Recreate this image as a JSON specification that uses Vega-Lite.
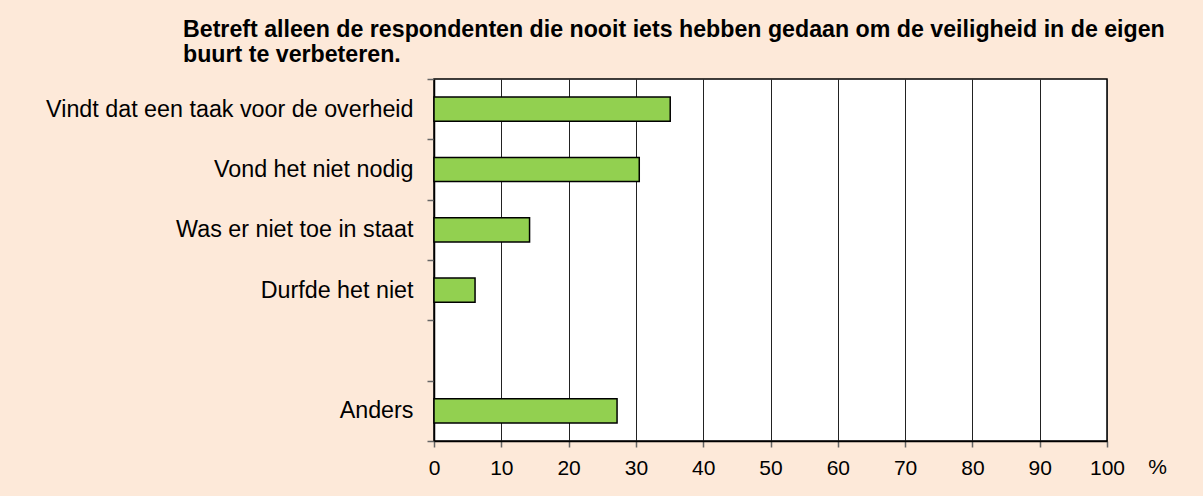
{
  "$schema": "https://vega.github.io/schema/vega-lite/v6.json",
  "autosize": {"type": "none"},
  "width": 673,
  "height": 362,
  "padding": {"left": 434, "top": 79, "right": 96, "bottom": 55},
  "background": "#FDE9D9",
  "title": {
    "text": ["Betreft alleen de respondenten die nooit iets hebben gedaan om de veiligheid in de eigen", "buurt te verbeteren."],
    "anchor": "start",
    "frame": "group",
    "dx": -251,
    "offset": 0,
    "font": "Liberation Sans",
    "fontSize": 23.2,
    "fontWeight": "bold",
    "lineHeight": 25,
    "color": "#000000"
  },
  "data": {
    "values": [
      {"reden": "Vindt dat een taak voor de overheid", "pct": 35.1},
      {"reden": "Vond het niet nodig", "pct": 30.5},
      {"reden": "Was er niet toe in staat", "pct": 14.2},
      {"reden": "Durfde het niet ", "pct": 6.1},
      {"reden": "Anders", "pct": 27.2}
    ]
  },
  "mark": {"type": "bar", "color": "#92D050", "stroke": "#000000", "strokeWidth": 1.5, "height": {"band": 0.4}},
  "encoding": {
    "y": {
      "field": "reden",
      "type": "nominal",
      "sort": null,
      "scale": {
        "domain": ["Vindt dat een taak voor de overheid", "Vond het niet nodig", "Was er niet toe in staat", "Durfde het niet ", " ", "Anders"],
        "paddingInner": 0,
        "paddingOuter": 0
      },
      "axis": {
        "title": null,
        "tickBand": "extent",
        "tickSize": 7,
        "tickColor": "#666666",
        "tickWidth": 1.5,
        "domainColor": "#000000",
        "domainWidth": 1.5,
        "labelPadding": 14,
        "labelFont": "Liberation Sans",
        "labelFontSize": 23.3,
        "labelColor": "#000000",
        "labelLimit": 500,
        "grid": false
      }
    },
    "x": {
      "field": "pct",
      "type": "quantitative",
      "scale": {"domain": [0, 100], "nice": false},
      "axis": {
        "title": "%",
        "titleFont": "Liberation Sans",
        "titleFontSize": 21,
        "titleFontWeight": "normal",
        "titleColor": "#000000",
        "titleX": 723,
        "titleY": 26,
        "titleBaseline": "middle",
        "titleAlign": "center",
        "values": [0, 10, 20, 30, 40, 50, 60, 70, 80, 90, 100],
        "tickSize": 6,
        "tickColor": "#666666",
        "tickWidth": 1.5,
        "domainColor": "#000000",
        "domainWidth": 1.5,
        "labelPadding": 10,
        "labelFont": "Liberation Sans",
        "labelFontSize": 21,
        "labelColor": "#000000",
        "labelFlush": false,
        "grid": true,
        "gridColor": "#222222",
        "gridWidth": 1,
        "gridOpacity": 1
      }
    }
  },
  "config": {
    "view": {"fill": "#FFFFFF", "stroke": "#000000", "strokeWidth": 1.5}
  }
}
